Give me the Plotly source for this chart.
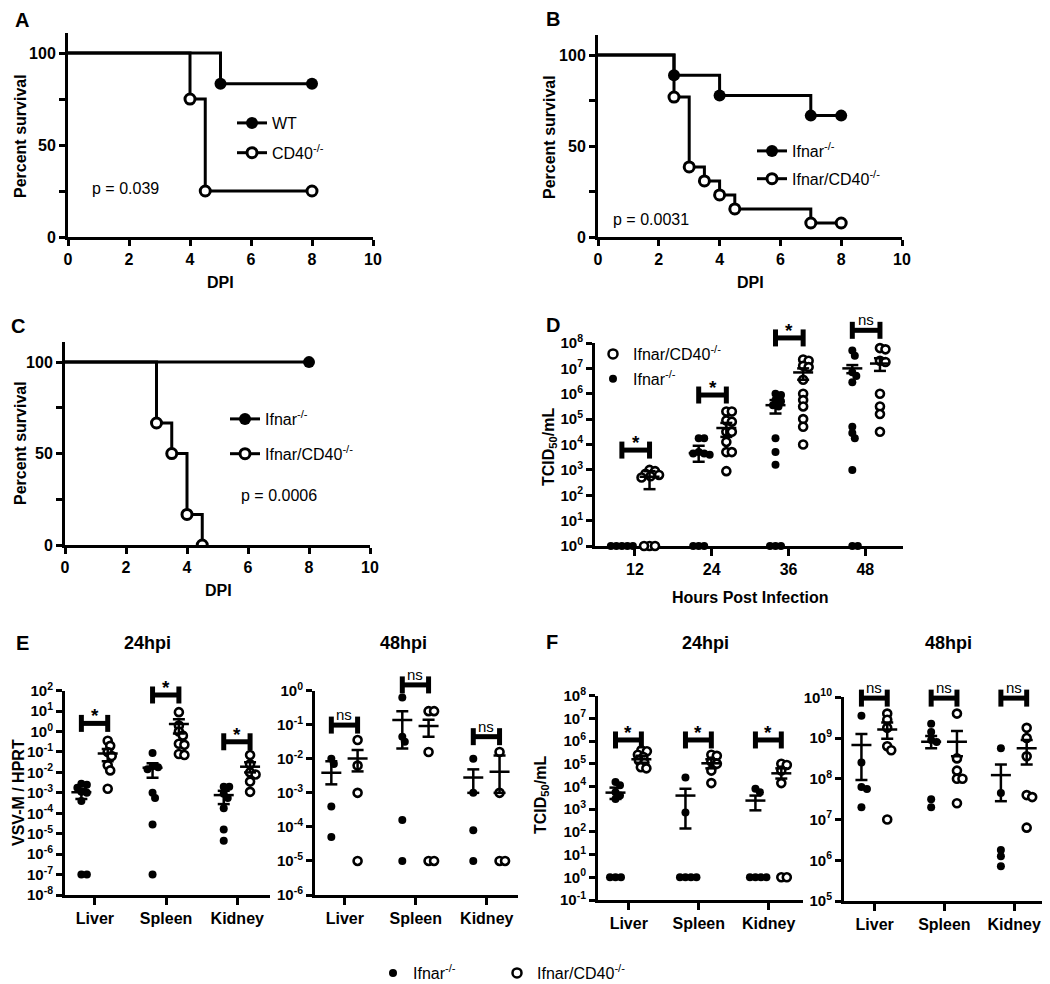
import plotly.graph_objects as go

PAGE_W, PAGE_H = 1050, 984
OFF = 8                      # default page margin in front of the plot div
W, H = PAGE_W - OFF, PAGE_H - OFF
FONT = "Liberation Sans, Arial, sans-serif"

def fx(px):
    return (px - OFF) / W

def fy(py):
    return 1 - (py - OFF) / H

# ---------------- data ----------------
# Panel A (days, percent survival)
a_days_wt = [0, 5, 8]
a_surv_wt = [100, 83.3, 83.3]
a_days_cd40 = [0, 4, 4.5, 8]
a_surv_cd40 = [100, 75, 25, 25]
# Panel B
b_days_ifnar = [0, 2.5, 4, 7, 8]
b_surv_ifnar = [100, 88.9, 77.8, 66.7, 66.7]
b_days_dko = [0, 2.5, 3, 3.5, 4, 4.5, 7, 8]
b_surv_dko = [100, 76.9, 38.5, 30.8, 23.1, 15.4, 7.7, 7.7]
# Panel C
c_days_ifnar = [0, 8]
c_surv_ifnar = [100, 100]
c_days_dko = [0, 3, 3.5, 4, 4.5]
c_surv_dko = [100, 66.7, 50, 16.7, 0]
p_values = ["p = 0.039", "p = 0.0031", "p = 0.0006"]

# Panel D (log10 TCID50/mL)
d_hours = ["12", "24", "36", "48"]
d_ifnar = [[0, 0, 0, 0, 0],
           [4.25, 4.25, 3.7, 3.65, 3.65, 3.6, 0, 0, 0],
           [6.0, 5.95, 5.75, 5.7, 5.55, 5.5, 4.25, 3.7, 3.2, 0, 0, 0],
           [7.7, 7.5, 6.85, 6.7, 6.45, 4.7, 4.45, 4.25, 3.0, 0, 0]]
d_dko = [[3.0, 2.95, 2.85, 2.8, 2.75, 2.7, 0, 0, 0],
         [5.3, 5.3, 4.95, 4.9, 4.5, 4.5, 4.1, 3.7, 3.7, 2.95],
         [7.35, 7.3, 7.1, 7.05, 6.55, 6.0, 5.75, 5.5, 5.0, 4.7, 4.0],
         [7.8, 7.75, 7.3, 7.25, 6.0, 5.5, 5.2, 4.5]]
d_ifnar_mean = [0, 3.66, 5.55, 7.0]
d_ifnar_lo = [0, 3.32, 5.22, 6.81]
d_ifnar_hi = [0, 3.95, 5.75, 7.13]
d_dko_mean = [2.73, 4.65, 6.84, 7.19]
d_dko_lo = [2.24, 4.3, 6.55, 6.9]
d_dko_hi = [2.95, 4.85, 7.0, 7.4]
d_sig = ["*", "*", "*", "ns"]
d_sig_y = [3.78, 5.95, 8.2, 8.5]

tissues = ["Liver", "Spleen", "Kidney"]
# Panel E 24hpi (log10 VSV-M / HPRT)
e24_ifnar = [[-2.55, -2.6, -2.75, -2.95, -3.0, -3.4, -7, -7],
             [-1.05, -1.7, -1.75, -1.85, -3.0, -3.25, -4.55, -7],
             [-2.7, -2.7, -3.05, -3.25, -3.75, -4.8, -5.35]]
e24_dko = [[-0.45, -0.7, -1.0, -1.2, -1.65, -1.9, -2.8],
           [0.95, 0.3, 0.0, -0.2, -0.6, -0.65, -1.1, -1.15],
           [-1.15, -1.6, -2.0, -2.1, -2.45, -2.95]]
e24_ifnar_mean = [-2.97, -1.77, -3.11]
e24_ifnar_lo = [-3.3, -2.26, -3.55]
e24_ifnar_hi = [-2.8, -1.55, -2.9]
e24_dko_mean = [-1.07, 0.37, -1.72]
e24_dko_lo = [-1.45, -0.1, -2.0]
e24_dko_hi = [-0.85, 0.6, -1.5]
e24_sig = ["*", "*", "*"]
e24_sig_y = [0.4, 1.79, -0.5]
# Panel E 48hpi
e48_ifnar = [[-2.0, -2.15, -3.4, -4.3],
             [-0.2, -1.35, -1.5, -3.8, -5],
             [-2.0, -3.0, -4.1, -5]]
e48_dko = [[-1.45, -2.2, -3.0, -5],
           [-0.6, -0.6, -1.8, -5, -5],
           [-1.8, -3.0, -5, -5]]
e48_ifnar_mean = [-2.41, -0.86, -2.55]
e48_ifnar_lo = [-2.75, -1.7, -3.0]
e48_ifnar_hi = [-2.07, -0.6, -2.31]
e48_dko_mean = [-1.99, -1.04, -2.38]
e48_dko_lo = [-2.37, -1.35, -3.0]
e48_dko_hi = [-1.74, -0.85, -1.9]
e48_sig = ["ns", "ns", "ns"]
e48_sig_y = [-1.01, 0.17, -1.35]
# Panel F 24hpi (log10 TCID50/mL)
f24_ifnar = [[4.2, 4.05, 3.75, 3.6, 3.45, 0, 0, 0],
             [4.4, 2.85, 0, 0, 0, 0],
             [3.9, 3.75, 0, 0, 0, 0]]
f24_dko = [[5.6, 5.55, 5.4, 5.3, 5.15, 5.05, 4.85, 4.8],
           [5.4, 5.35, 5.1, 5.0, 4.7, 4.15],
           [5.0, 4.95, 4.7, 4.15, 0, 0]]
f24_ifnar_mean = [3.73, 3.6, 3.38]
f24_ifnar_lo = [3.45, 2.15, 2.95]
f24_ifnar_hi = [3.95, 3.9, 3.6]
f24_dko_mean = [5.2, 5.02, 4.58]
f24_dko_lo = [5.05, 4.8, 4.35]
f24_dko_hi = [5.35, 5.2, 4.8]
f24_sig = ["*", "*", "*"]
f24_sig_y = [6.05, 6.05, 6.05]
# Panel F 48hpi
f48_ifnar = [[9.55, 8.4, 7.8, 7.75, 7.3],
             [9.35, 9.15, 8.95, 8.9, 7.5, 7.3],
             [8.75, 7.65, 6.25, 6.1, 5.85]]
f48_dko = [[9.6, 9.45, 9.25, 8.8, 8.7, 7.0],
           [9.6, 8.5, 8.2, 8.0, 8.0, 7.4],
           [9.25, 9.0, 8.55, 7.6, 7.55, 6.8]]
f48_ifnar_mean = [8.83, 8.91, 8.09]
f48_ifnar_lo = [7.97, 8.75, 7.45]
f48_ifnar_hi = [9.1, 9.05, 8.35]
f48_dko_mean = [9.21, 8.91, 8.75]
f48_dko_lo = [8.98, 8.55, 8.35]
f48_dko_hi = [9.38, 9.17, 8.95]
f48_sig = ["ns", "ns", "ns"]
f48_sig_y = [9.98, 9.98, 9.98]

# ---------------- layout geometry (page pixels) ----------------
# n: (x_px0, x_px1, y_px_top, y_px_bottom, xrange, yrange)
geo = {
    1: (68, 373, 32.8, 237, [0, 10], [0, 111]),
    2: (598, 902, 35, 237, [0, 10], [0, 111]),
    3: (65, 370, 342, 545, [0, 10], [0, 111]),
    4: (595, 903, 343, 546, [0.48, 4.49], [0, 8]),
    5: (65, 270, 690.7, 895, [0.58, 3.46], [-8, 2]),
    6: (315, 518, 690.7, 895, [0.58, 3.44], [-6, 0]),
    7: (598, 803, 695.7, 900, [0.56, 3.49], [-1, 8]),
    8: (844, 1049, 697.3, 901, [0.56, 3.5], [5, 10]),
}

fig = go.Figure()
layout = dict(
    width=W, height=H, margin=dict(l=0, r=0, t=0, b=0, autoexpand=False),
    paper_bgcolor="white", plot_bgcolor="white", showlegend=True,
    font=dict(family=FONT, color="black"),
)
annotations = []
shapes = []

def ax_names(n):
    return ("x" if n == 1 else f"x{n}"), ("y" if n == 1 else f"y{n}")

base_axis = dict(showline=True, linecolor="black", linewidth=3, ticks="outside",
                 ticklen=6, tickwidth=3, tickcolor="black", showgrid=False,
                 zeroline=False, layer="below traces", fixedrange=True, automargin=False,
                 tickfont=dict(family=FONT, size=16, color="black", weight="bold"))

def sup(k):
    return f"10<sup>{k}</sup>"

for n, (x0, x1, yt, yb, xr, yr) in geo.items():
    xa, ya = ax_names(n)
    xkey = "xaxis" if n == 1 else f"xaxis{n}"
    ykey = "yaxis" if n == 1 else f"yaxis{n}"
    xd = dict(base_axis, domain=[fx(x0), min(fx(x1), 1)], range=xr, anchor=ya)
    yd = dict(base_axis, domain=[fy(yb), fy(yt)], range=yr, anchor=xa)
    if n <= 3:
        xd.update(tickvals=[0, 2, 4, 6, 8, 10])
        yd.update(tickvals=[0, 25, 50, 75, 100], ticktext=["0", "", "50", "", "100"])
    else:
        if n == 4:
            xd.update(tickvals=[1, 2, 3, 4], ticktext=d_hours, ticklen=7)
        else:
            xd.update(tickvals=[1, 2, 3], ticktext=tissues, ticklen=7)
        ks = list(range(yr[0], yr[1] + 1))
        yd.update(type="log", tickvals=[10 ** k for k in ks],
                  ticktext=[sup(k) for k in ks],
                  tickfont=dict(family=FONT, size=15, color="black", weight="bold"))
    layout[xkey] = xd
    layout[ykey] = yd

# ---------------- survival panels ----------------
def survival(n, days, surv, filled):
    xa, ya = ax_names(n)
    fig.add_trace(go.Scatter(x=days, y=surv, mode="lines", line=dict(color="black", width=3, shape="hv"),
                             xaxis=xa, yaxis=ya, showlegend=False, hoverinfo="skip"))
    marker = dict(size=12, color="black", line=dict(width=0)) if filled else \
        dict(size=10, color="white", line=dict(color="black", width=3))
    fig.add_trace(go.Scatter(x=days[1:], y=surv[1:], mode="markers", marker=marker,
                             xaxis=xa, yaxis=ya, showlegend=False, cliponaxis=True, hoverinfo="skip"))

def legend_entry(name, filled, legend, group, with_line=True, size=None):
    if filled:
        marker = dict(size=size or 12, color="black", line=dict(width=0))
    else:
        marker = dict(size=size or 10, color="white", line=dict(color="black", width=3 if with_line else 2.5))
    fig.add_trace(go.Scatter(x=[None], y=[None], mode="lines+markers" if with_line else "markers",
                             marker=marker, line=dict(color="black", width=3), name=name,
                             legend=legend, legendgroup=group, showlegend=True, hoverinfo="skip"))

survival(1, a_days_wt, a_surv_wt, True)
survival(1, a_days_cd40, a_surv_cd40, False)
survival(2, b_days_ifnar, b_surv_ifnar, True)
survival(2, b_days_dko, b_surv_dko, False)
survival(3, c_days_ifnar, c_surv_ifnar, True)
survival(3, c_days_dko, c_surv_dko, False)

legend_entry("WT", True, "legend", "a1")
legend_entry("CD40<sup>-/-</sup>", False, "legend", "a2")
legend_entry("Ifnar<sup>-/-</sup>", True, "legend2", "b1")
legend_entry("Ifnar/CD40<sup>-/-</sup>", False, "legend2", "b2")
legend_entry("Ifnar<sup>-/-</sup>", True, "legend3", "c1")
legend_entry("Ifnar/CD40<sup>-/-</sup>", False, "legend3", "c2")
legend_entry("Ifnar/CD40<sup>-/-</sup>", False, "legend4", "d1", with_line=False, size=9)
legend_entry("Ifnar<sup>-/-</sup>", True, "legend4", "d2", with_line=False, size=8)
legend_entry("Ifnar<sup>-/-</sup>", True, "legend5", "e1", with_line=False, size=8)
legend_entry("Ifnar/CD40<sup>-/-</sup>", False, "legend6", "e2", with_line=False, size=9)

# ---------------- dot plots ----------------
def swarm(vals, ppd, ppu, diam):
    order = sorted(range(len(vals)), key=lambda i: -vals[i])
    placed = []
    offs = [0.0] * len(vals)
    cands = [0.0]
    for k in range(1, 200):
        cands += [k * 0.5, -k * 0.5]
    for i in order:
        yp = vals[i] * ppd
        for c in cands:
            if all((c - px) ** 2 + (yp - py) ** 2 >= diam ** 2 for px, py in placed):
                break
        placed.append((c, yp))
        offs[i] = c / ppu
    return offs

def dot_panel(n, ifnar, dko, im, ilo, ihi, dm, dlo, dhi, sig, sig_y, off_f, off_o, clip):
    xa, ya = ax_names(n)
    x0, x1, yt, yb, xr, yr = geo[n]
    ppu = (x1 - x0) / (xr[1] - xr[0])
    ppd = (yb - yt) / (yr[1] - yr[0])
    for ci in range(len(ifnar)):
        cat = ci + 1
        for vals, off, filled in ((ifnar[ci], off_f, True), (dko[ci], off_o, False)):
            jit = swarm(vals, ppd, ppu, 5.5)
            xs = [cat + off + j for j in jit]
            ys = [10 ** v for v in vals]
            marker = dict(size=8, color="black", line=dict(width=0)) if filled else \
                dict(size=8, color="white", line=dict(color="black", width=2.6))
            fig.add_trace(go.Scatter(x=xs, y=ys, mode="markers", marker=marker, xaxis=xa, yaxis=ya,
                                     showlegend=False, cliponaxis=clip, hoverinfo="skip"))
        # mean +- SEM
        mx, my = [], []
        hw, cw = 10 / ppu, 6 / ppu
        for off, m, lo, hi in ((off_f, im[ci], ilo[ci], ihi[ci]), (off_o, dm[ci], dlo[ci], dhi[ci])):
            xc = cat + off
            mx += [xc - hw, xc + hw, None, xc, xc, None, xc - cw, xc + cw, None, xc - cw, xc + cw, None]
            my += [10 ** m, 10 ** m, None, 10 ** lo, 10 ** hi, None, 10 ** lo, 10 ** lo, None,
                   10 ** hi, 10 ** hi, None]
        fig.add_trace(go.Scatter(x=mx, y=my, mode="lines", line=dict(color="black", width=2.5),
                                 xaxis=xa, yaxis=ya, showlegend=False, hoverinfo="skip"))
        # significance bracket (domain-referenced so it can sit above the axis)
        xdom = f"{xa} domain"
        ydom = f"{ya} domain"
        fx1 = (cat + off_f - xr[0]) / (xr[1] - xr[0])
        fx2 = (cat + off_o - xr[0]) / (xr[1] - xr[0])
        fyy = (sig_y[ci] - yr[0]) / (yr[1] - yr[0])
        hcap = 8.5 / (yb - yt)
        shapes.append(dict(type="line", xref=xdom, yref=ydom, x0=fx1, x1=fx2, y0=fyy, y1=fyy,
                           line=dict(color="black", width=5)))
        for f in (fx1, fx2):
            shapes.append(dict(type="line", xref=xdom, yref=ydom, x0=f, x1=f, y0=fyy - hcap, y1=fyy + hcap,
                               line=dict(color="black", width=5)))
        star = sig[ci] == "*"
        annotations.append(dict(xref=xdom, yref=ydom, x=(fx1 + fx2) / 2, y=fyy, text=sig[ci],
                                showarrow=False, xanchor="center", yanchor="bottom",
                                yshift=-5 if star else 0,
                                font=dict(family=FONT, size=19 if star else 15, color="black",
                                          weight="bold" if star else "normal")))

dot_panel(4, d_ifnar, d_dko, d_ifnar_mean, d_ifnar_lo, d_ifnar_hi, d_dko_mean, d_dko_lo, d_dko_hi,
          d_sig, d_sig_y, -0.17, 0.19, False)
dot_panel(5, e24_ifnar, e24_dko, e24_ifnar_mean, e24_ifnar_lo, e24_ifnar_hi, e24_dko_mean, e24_dko_lo,
          e24_dko_hi, e24_sig, e24_sig_y, -0.19, 0.18, True)
dot_panel(6, e48_ifnar, e48_dko, e48_ifnar_mean, e48_ifnar_lo, e48_ifnar_hi, e48_dko_mean, e48_dko_lo,
          e48_dko_hi, e48_sig, e48_sig_y, -0.19, 0.18, True)
dot_panel(7, f24_ifnar, f24_dko, f24_ifnar_mean, f24_ifnar_lo, f24_ifnar_hi, f24_dko_mean, f24_dko_lo,
          f24_dko_hi, f24_sig, f24_sig_y, -0.19, 0.18, True)
dot_panel(8, f48_ifnar, f48_dko, f48_ifnar_mean, f48_ifnar_lo, f48_ifnar_hi, f48_dko_mean, f48_dko_lo,
          f48_dko_hi, f48_sig, f48_sig_y, -0.19, 0.18, True)

# ---------------- text ----------------
def text(px, py, s, size, bold=True, angle=0, xanchor="center"):
    annotations.append(dict(xref="paper", yref="paper", x=fx(px), y=fy(py), text=s, showarrow=False,
                            xanchor=xanchor, yanchor="middle", textangle=angle,
                            font=dict(family=FONT, size=size, color="black",
                                      weight="bold" if bold else "normal")))

for letter, (px, py) in zip("ABCDEF", [(22, 20), (553, 19), (18, 326), (553, 325), (22, 643), (552, 642)]):
    text(px, py, letter, 20)
for px, py in [(20, 136), (549, 137), (20, 443)]:
    text(px, py, "Percent survival", 16, angle=-90)
for px, py in [(220, 283), (750, 283), (218, 590)]:
    text(px, py, "DPI", 16)
text(125, 188, p_values[0], 16, bold=False)
text(651, 220, p_values[1], 16, bold=False)
text(279, 495, p_values[2], 16, bold=False)
text(549, 447, "TCID<sub>50</sub>/mL", 16, angle=-90)
text(750, 597, "Hours Post Infection", 16)
text(18, 793, "VSV-M / HPRT", 16, angle=-90)
text(541, 795, "TCID<sub>50</sub>/mL", 16, angle=-90)
for px, s in [(147, "24hpi"), (403, "48hpi"), (705, "24hpi"), (948, "48hpi")]:
    text(px, 643, s, 18)

leg_common = dict(font=dict(family=FONT, size=16, color="black"), bgcolor="rgba(0,0,0,0)",
                  borderwidth=0, xanchor="left", yanchor="top", tracegroupgap=6, itemclick=False,
                  itemdoubleclick=False)
layout["legend"] = dict(leg_common, x=fx(232), y=fy(106), tracegroupgap=6)
layout["legend2"] = dict(leg_common, x=fx(752), y=fy(134), tracegroupgap=4)
layout["legend3"] = dict(leg_common, x=fx(225), y=fy(402), tracegroupgap=11)
layout["legend4"] = dict(leg_common, x=fx(593), y=fy(337), tracegroupgap=1)
layout["legend5"] = dict(leg_common, x=fx(373), y=fy(956))
layout["legend6"] = dict(leg_common, x=fx(497), y=fy(956))

layout["annotations"] = annotations
layout["shapes"] = shapes
fig.update_layout(**layout)
fig.write_html("out.html")
